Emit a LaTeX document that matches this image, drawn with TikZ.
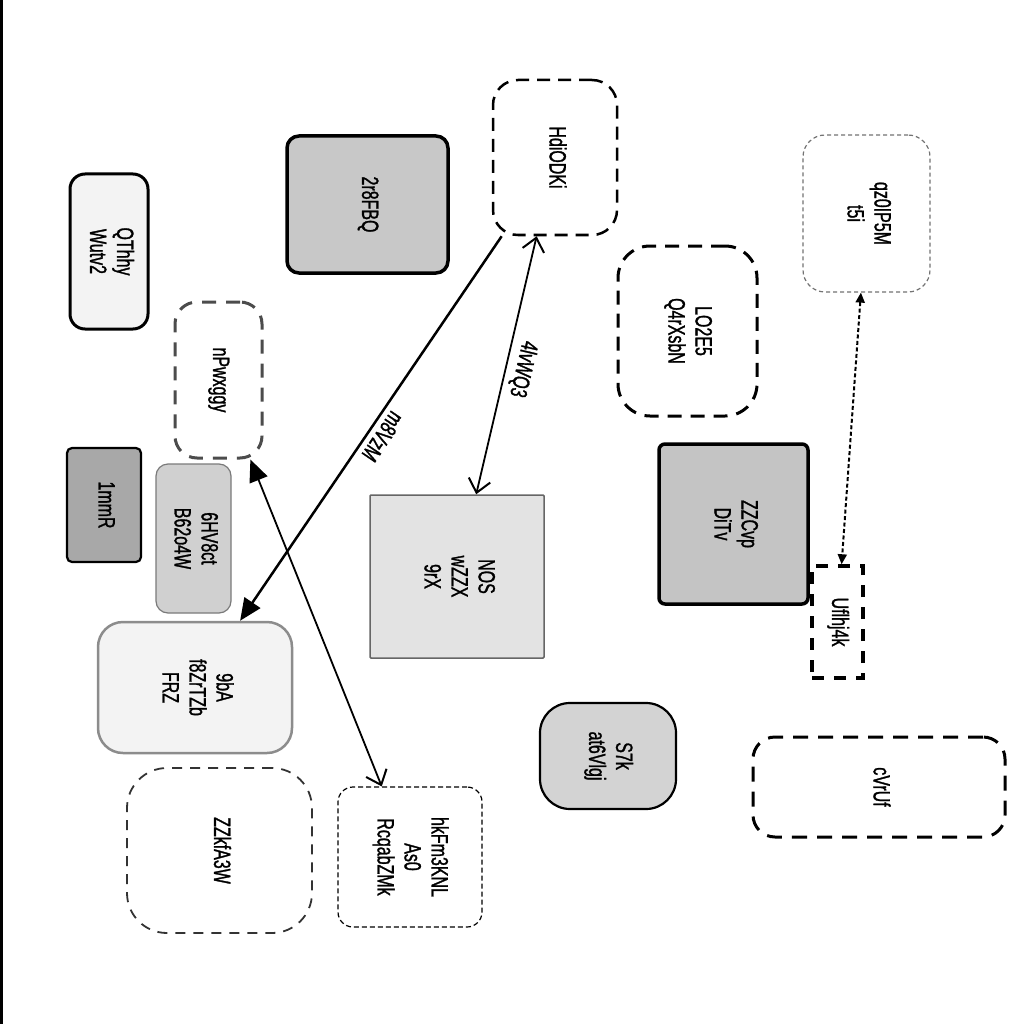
\documentclass[tikz,border=0pt]{standalone}
\usepackage{fontspec}
\setmainfont{Liberation Sans}[FakeStretch=0.68,FakeBold=1.2]
\usetikzlibrary{arrows.meta}
\newcommand{\rt}[1]{\rotatebox{-90}{\begin{tabular}{@{}c@{}}#1\end{tabular}}}
\definecolor{fA}{HTML}{F3F3F3}
\definecolor{fB}{HTML}{C8C8C8}
\definecolor{fC}{HTML}{A8A8A8}
\definecolor{fD}{HTML}{D0D0D0}
\definecolor{fE}{HTML}{E3E3E3}
\definecolor{fF}{HTML}{C4C4C4}
\definecolor{fG}{HTML}{D3D3D3}
\tikzset{
  box/.style={rectangle, inner sep=0pt, font=\fontsize{23.5}{27}\selectfont},
  lbl/.style={font=\fontsize{23.5}{27}\selectfont, sloped, allow upside down, above, inner sep=5pt}
}
\begin{document}
\begin{tikzpicture}[x=1pt,y=-1pt]
\useasboundingbox (0,0) rectangle (1024,1024);
\fill[white] (0,0) rectangle (1024,1024);
\draw[line width=3pt] (1,0) -- (1,1024);

\node[box, fill=fA, draw=black, line width=3pt, rounded corners=15pt, minimum width=78pt, minimum height=155pt] (QThhy) at (109,251.5) {\rt{QThhy\\Wutv2}};
\node[box, draw=black!70, line width=3pt, dash pattern=on 14pt off 10pt, rounded corners=22pt, minimum width=87pt, minimum height=156pt] (nPw) at (218.5,380) {\rt{nPwxggy}};
\node[box, fill=fB, draw=black, line width=3.5pt, rounded corners=12pt, minimum width=161pt, minimum height=137pt] (r8) at (367.5,204.5) {\rt{2r8FBQ}};
\node[box, draw=black, line width=2.5pt, dash pattern=on 13pt off 8pt, rounded corners=25pt, minimum width=124pt, minimum height=155pt] (Hdi) at (555,157.5) {\rt{HdiODKi}};
\node[box, draw=black!55, line width=1.2pt, dash pattern=on 4pt off 3pt, rounded corners=22pt, minimum width=127pt, minimum height=157pt] (qz) at (866.5,213.5) {\rt{qz0IP5M\\t5i}};
\node[box, draw=black, line width=3pt, dash pattern=on 14pt off 9pt, rounded corners=32pt, minimum width=139pt, minimum height=170pt] (LO) at (687.5,331) {\rt{LO2E5\\Q4rXsbN}};
\node[box, fill=fC, draw=black, line width=2.2pt, rounded corners=5pt, minimum width=74pt, minimum height=114pt] (mm) at (104,505) {\rt{1mmR}};
\node[box, fill=fD, draw=black!52, line width=1.2pt, rounded corners=12pt, minimum width=75pt, minimum height=149pt] (HV) at (193.5,538.5) {\rt{6HV8ct\\B62o4W}};
\node[box, fill=fA, draw=black!45, line width=2.5pt, rounded corners=25pt, minimum width=194pt, minimum height=131pt] (bA) at (195,687.5) {\rt{9bA\\f8ZrTZb\\FRZ}};
\node[box, fill=fE, draw=black!60, line width=1.5pt, rounded corners=1pt, minimum width=174pt, minimum height=163pt] (NOS) at (457,576.5) {\rt{NOS\\wZZX\\9rX}};
\node[box, fill=fF, draw=black, line width=3.5pt, rounded corners=6pt, minimum width=149pt, minimum height=160pt] (ZZC) at (733.5,524) {\rt{ZZCvp\\DiTv}};
\node[box, draw=black, line width=3.5pt, dash pattern=on 12pt off 10pt, minimum width=51pt, minimum height=112pt] (Uf) at (837.5,622) {\rt{Uflhj4k}};
\node[box, fill=fG, draw=black, line width=2.2pt, rounded corners=30pt, minimum width=136pt, minimum height=106pt] (S7k) at (608,756) {\rt{S7k\\at6Vlgj}};
\node[box, draw=black, line width=3pt, dash pattern=on 15pt off 10pt, rounded corners=22pt, minimum width=252pt, minimum height=100pt] (cV) at (879,787) {\rt{cVrUf}};
\node[box, draw=black!80, line width=1.8pt, dash pattern=on 10pt off 8pt, rounded corners=40pt, minimum width=185pt, minimum height=165pt] (ZZk) at (219.5,850.5) {\rt{ZZkfA3W}};
\node[box, draw=black, line width=1.2pt, dash pattern=on 5pt off 3pt, rounded corners=15pt, minimum width=144pt, minimum height=140pt] (hk) at (410,857) {\rt{hkFm3KNL\\As0\\RcqabZMk}};

\draw[line width=2.5pt, -{Triangle[length=22pt,width=19pt]}] (Hdi) -- node[lbl, pos=0.5] {m8VzM} (bA);
\draw[line width=1.8pt, {Straight Barb[length=13pt,width=22pt,line width=2pt]}-{Straight Barb[length=13pt,width=22pt,line width=2pt]}] (Hdi) -- node[lbl, pos=0.5] {4lvWQ3} (NOS);
\draw[line width=1.8pt, {Triangle[length=22pt,width=19pt]}-{Straight Barb[length=13pt,width=22pt,line width=2pt]}] (nPw) -- (hk);
\draw[line width=2pt, dash pattern=on 4pt off 2.5pt, {Triangle[length=10pt,width=9pt]}-{Triangle[length=10pt,width=9pt]}] (qz) -- (Uf);
\end{tikzpicture}
\end{document}
